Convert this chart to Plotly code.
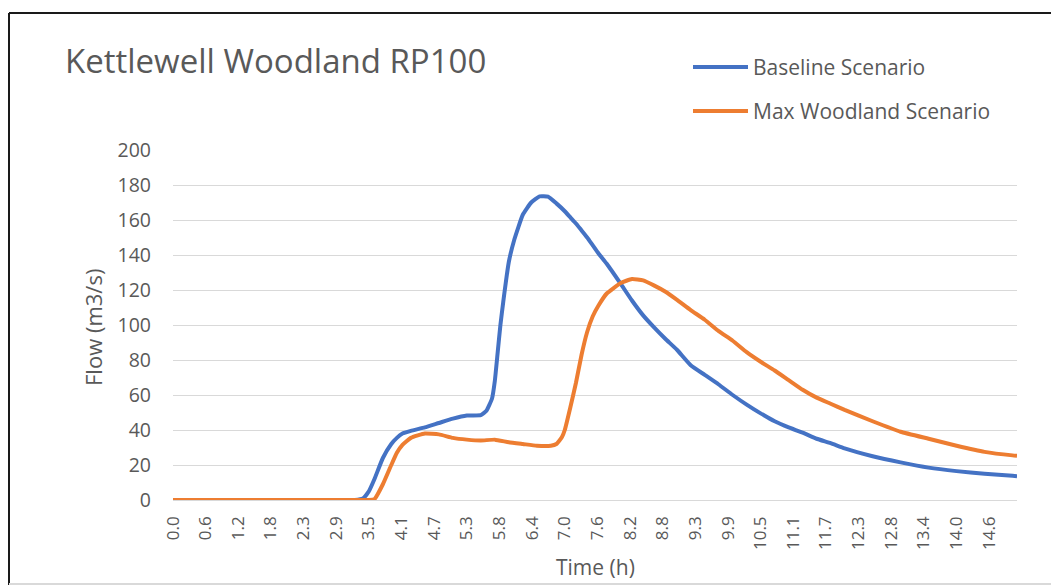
import plotly.graph_objects as go

# ---- data ----
baseline_time = [0.0, 3.0, 3.25, 3.4, 3.5, 3.6, 3.75, 3.9, 4.0, 4.1, 4.25, 4.5, 4.75, 5.0,
                 5.25, 5.5, 5.6, 5.7, 5.75, 5.8, 5.85, 5.9, 6.0, 6.1, 6.25, 6.4, 6.55,
                 6.7, 6.85, 7.0, 7.1, 7.2, 7.3, 7.4, 7.5, 7.6, 7.75, 8.0, 8.2, 8.4, 8.6,
                 8.8, 9.0, 9.25, 9.5, 9.75, 10.0, 10.25, 10.5, 10.75, 11.0, 11.25, 11.5,
                 11.75, 12.0, 12.5, 13.0, 13.5, 14.0, 14.5, 15.0, 15.08]
baseline_flow = [0, 0, 0, 1, 5, 12, 24, 32, 35.5, 38, 39.5, 41.5, 44, 46.5,
                 48.3, 48.5, 51, 58, 68, 84, 100, 113, 136, 149, 163, 170, 173.5,
                 173.3, 169.5, 165, 161.5, 158, 154, 150, 145.5, 141, 135, 123.5, 114, 105.5, 98.5,
                 92, 86, 77, 71.5, 66, 60, 54.5, 49.5, 45, 41.5, 38.5, 35,
                 32.5, 29.5, 25, 21.5, 18.5, 16.5, 15, 13.8, 13.6]

woodland_time = [0.0, 3.0, 3.5, 3.6, 3.75, 3.9, 4.0, 4.1, 4.25, 4.5, 4.75, 5.0, 5.25,
                 5.5, 5.75, 6.0, 6.25, 6.5, 6.75, 6.85, 6.95, 7.0, 7.1, 7.2, 7.3, 7.4,
                 7.5, 7.6, 7.75, 8.0, 8.2, 8.4, 8.6, 8.8, 9.0, 9.25, 9.5, 9.75, 10.0,
                 10.25, 10.5, 10.75, 11.0, 11.25, 11.5, 11.75, 12.0, 12.5, 13.0, 13.5,
                 14.0, 14.5, 15.0, 15.08]
woodland_flow = [0, 0, 0, 0.5, 9, 20, 27, 31.5, 35.5, 38, 37.5, 35.5, 34.5,
                 34, 34.5, 33, 32, 31, 31, 32, 36, 40, 53, 67, 83, 96,
                 105, 111, 118, 124, 126.3, 125.5, 122.5, 119, 114.5, 108.5, 103, 96.5, 91,
                 84.5, 79, 74, 68.5, 63, 58.5, 55, 51.5, 45, 39, 35,
                 31, 27.5, 25.5, 25.3]

tick_hours = [k * 7 / 12 for k in range(26)]
tick_labels = ["0.0", "0.6", "1.2", "1.8", "2.3", "2.9", "3.5", "4.1", "4.7", "5.3",
               "5.8", "6.4", "7.0", "7.6", "8.2", "8.8", "9.3", "9.9", "10.5", "11.1",
               "11.7", "12.3", "12.8", "13.4", "14.0", "14.6"]

series_names = ["Baseline Scenario", "Max Woodland Scenario"]
series_colors = ["#4472C4", "#ED7D31"]

TXT = "#595959"
FONT = "Open Sans"

fig = go.Figure()
for tx, fy, nm, col in [(baseline_time, baseline_flow, series_names[0], series_colors[0]),
                        (woodland_time, woodland_flow, series_names[1], series_colors[1])]:
    fig.add_trace(go.Scatter(x=tx, y=fy, mode="lines", name=nm,
                             line=dict(color=col, width=4, shape="spline", smoothing=0.4),
                             showlegend=False))

W, H = 1051, 586
L, R, T, B = 173, 34, 150, 86
pw, ph = W - L - R, H - T - B


def px(xpage):
    return (xpage - L) / pw


def py(ypage):
    return (H - B - ypage) / ph


shapes = [
    dict(type="line", xref="paper", yref="paper", x0=px(9), x1=px(1060), y0=py(13), y1=py(13),
         line=dict(color="#1a1a1a", width=2)),
    dict(type="line", xref="paper", yref="paper", x0=px(9), x1=px(9), y0=py(13), y1=py(585),
         line=dict(color="#1a1a1a", width=2)),
    dict(type="line", xref="paper", yref="paper", x0=px(9), x1=px(1060), y0=py(584), y1=py(584),
         line=dict(color="#d9d9d9", width=2)),
]
annotations = [
    dict(text="Kettlewell Woodland RP100", xref="paper", yref="paper",
         x=px(63), y=py(60), xanchor="left", yanchor="middle", showarrow=False,
         font=dict(family=FONT, size=33, color=TXT)),
    dict(text="Time (h)", xref="paper", yref="paper",
         x=px(595), y=py(567), xanchor="center", yanchor="middle", showarrow=False,
         font=dict(family=FONT, size=21, color=TXT)),
    dict(text="Flow (m3/s)", xref="paper", yref="paper", textangle=-90,
         x=px(93), y=py(328), xanchor="center", yanchor="middle", showarrow=False,
         font=dict(family=FONT, size=22, color=TXT)),
]
leg_y = [67, 111]
for i in range(2):
    shapes.append(dict(type="line", xref="paper", yref="paper",
                       x0=px(693), x1=px(748), y0=py(leg_y[i]), y1=py(leg_y[i]),
                       line=dict(color=series_colors[i], width=4)))
    annotations.append(dict(text=series_names[i], xref="paper", yref="paper",
                            x=px(751), y=py(leg_y[i]), xanchor="left", yanchor="middle",
                            showarrow=False, font=dict(family=FONT, size=21, color=TXT)))

fig.update_layout(
    width=W, height=H,
    margin=dict(l=L, r=R, t=T, b=B),
    paper_bgcolor="white", plot_bgcolor="white",
    font=dict(family=FONT, color=TXT),
    shapes=shapes, annotations=annotations,
    showlegend=False,
)
fig.update_xaxes(
    range=[0, 15.08], tickmode="array", tickvals=tick_hours, ticktext=tick_labels,
    tickangle=-90, tickfont=dict(size=17, color=TXT), showgrid=False,
    showline=False, zeroline=False, ticks="", ticklabelstandoff=12,
)
fig.update_yaxes(
    range=[0, 200], dtick=20, tickfont=dict(size=19.5, color=TXT),
    showgrid=True, gridcolor="#d9d9d9", gridwidth=1, zeroline=True,
    zerolinecolor="#d9d9d9", zerolinewidth=1, showline=False, ticks="",
    ticklabelstandoff=21,
)

fig.write_html(
    "out.html",
    config={"displayModeBar": False},
    post_script="document.body.style.margin='0';document.body.style.overflow='hidden';",
)
